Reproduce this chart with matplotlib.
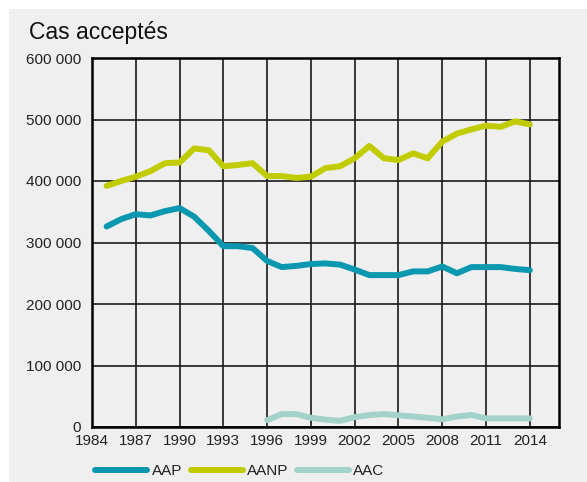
import matplotlib
matplotlib.use('Agg')
import matplotlib.pyplot as plt
from matplotlib.patches import Rectangle
from matplotlib.ticker import FuncFormatter

# accepted cases per year
years = list(range(1985, 2015))
aap = [326000, 338000, 346000, 344000, 351000, 356000, 342000, 319000, 294000, 294000,
       291000, 270000, 260000, 262000, 265000, 266000, 264000, 256000, 247000, 247000,
       247000, 253000, 253000, 261000, 250000, 260000, 260000, 260000, 257000, 255000]
aanp = [392000, 400000, 407000, 416000, 429000, 430000, 453000, 450000, 424000, 426000,
        429000, 408000, 408000, 405000, 407000, 421000, 424000, 437000, 457000, 437000,
        434000, 445000, 437000, 464000, 477000, 484000, 490000, 488000, 497000, 492000]
aac_years = list(range(1996, 2015))
aac = [11000, 21000, 21000, 15000, 12000, 10000, 16000, 19500, 21000, 19000,
       17000, 15000, 12500, 17000, 19500, 14000, 14000, 14000, 14000]

xticks = list(range(1984, 2015, 3))
yticks = list(range(0, 600001, 100000))

plt.rcParams['font.family'] = ['Liberation Sans', 'DejaVu Sans']

fig = plt.figure(figsize=(5.87, 4.82), dpi=100)
fig.patch.set_facecolor('white')
fig.patches.append(Rectangle((9 / 587, 0), 1 - 9 / 587, 1 - 9 / 482,
                             transform=fig.transFigure, facecolor='#efefef',
                             edgecolor='none', zorder=-10))

ax = fig.add_axes([92 / 587, (482 - 427) / 482, (559 - 92) / 587, (427 - 58) / 482])
ax.set_facecolor('#efefef')

lw = 4.3
ax.plot(years, aap, color='#0a98b0', lw=lw, solid_capstyle='round', label='AAP', zorder=3)
ax.plot(years, aanp, color='#c1cc00', lw=lw, solid_capstyle='round', label='AANP', zorder=3)
ax.plot(aac_years, aac, color='#a2d2c8', lw=lw, solid_capstyle='round', label='AAC', zorder=3)

ax.set_xlim(1984, 2016)
ax.set_ylim(0, 600000)
ax.set_xticks(xticks)
ax.set_yticks(yticks)
ax.yaxis.set_major_formatter(FuncFormatter(lambda v, p: '{:,.0f}'.format(v).replace(',', ' ')))
ax.grid(True, color='#1a1a1a', lw=1.2, zorder=1)
ax.set_axisbelow(True)
for s in ax.spines.values():
    s.set_linewidth(1.8)
    s.set_color('black')
ax.tick_params(length=0, labelsize=11, colors='#222222')
ax.tick_params(axis='y', pad=8)
ax.tick_params(axis='x', pad=5)

fig.text(29 / 587, 1 - 32 / 482, 'Cas acceptés', fontsize=16.5, color='#111111', va='center')

ax.legend(loc='upper left', bbox_to_anchor=(0.007, -0.1), ncol=3, frameon=False,
          fontsize=11, handlelength=3.4, handletextpad=0.3, columnspacing=0.55,
          borderaxespad=0, borderpad=0, labelcolor='#222222')

fig.savefig('out.png', dpi=100, facecolor=fig.get_facecolor())
